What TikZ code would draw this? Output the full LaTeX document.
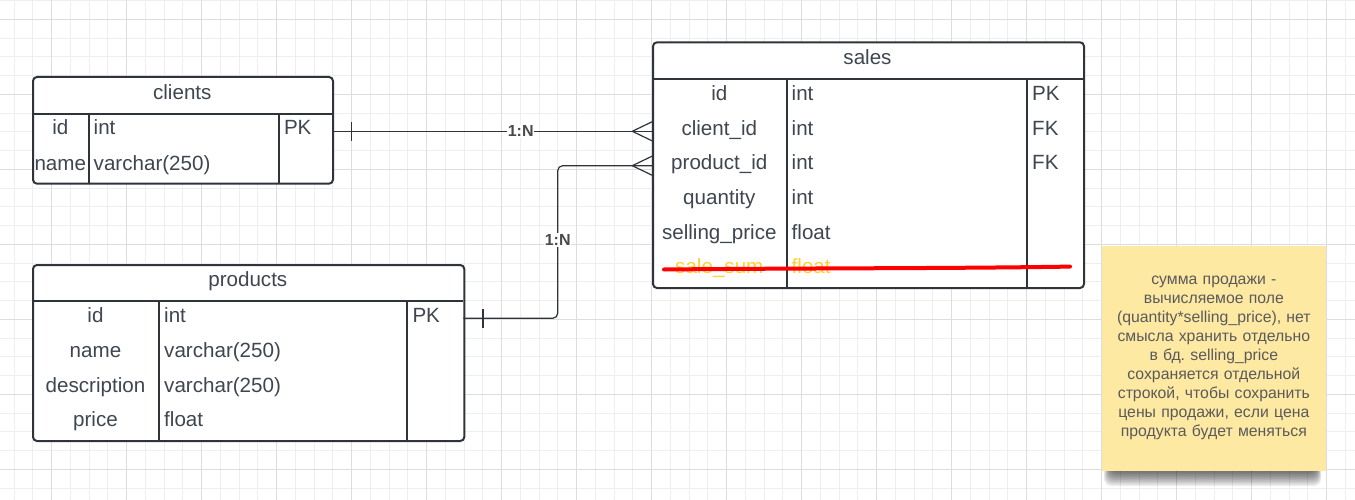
\documentclass[tikz,border=0pt]{standalone}
\usepackage{fontspec}
\setmainfont{Liberation Sans}
\frenchspacing
\definecolor{ink}{HTML}{2F343B}
\definecolor{txt}{HTML}{3F4650}
\definecolor{gridminor}{HTML}{EEEEEE}
\definecolor{gridmajor}{HTML}{DDDDDD}
\definecolor{notefill}{HTML}{FEE9A3}
\definecolor{notetxt}{HTML}{5A5A5A}
\definecolor{struck}{HTML}{FFD22E}
\definecolor{lbltxt}{HTML}{4A4A4A}
\begin{document}
\begin{tikzpicture}[x=1pt,y=-1pt,
  tbl/.style={draw=ink, line width=2pt, rounded corners=4pt, fill=white, anchor=north west, inner sep=0pt},
  cell/.style={font=\fontsize{20.6}{24}\selectfont, text=txt, inner sep=0pt, anchor=base},
  cellw/.style={cell, anchor=base west},
  gone/.style={text=struck},
  sepline/.style={draw=ink, line width=2pt},
  conn/.style={draw=ink, line width=1.2pt},
  lbl/.style={font=\bfseries\fontsize{16}{18}\selectfont, text=lbltxt, fill=white, inner xsep=0.6pt, inner ysep=1pt},
  note/.style={fill=notefill, anchor=north west, inner sep=0pt, align=center, text width=215pt,
    font=\fontsize{15.8}{19}\selectfont, text=notetxt},
  shadowlayer/.style={fill=black, opacity=0.07, rounded corners=7pt},
  minorgrid/.style={draw=gridminor, line width=1pt},
  majorgrid/.style={draw=gridmajor, line width=1pt}
]
\useasboundingbox (0,0) rectangle (1355,500);
\fill[white] (0,0) rectangle (1355,500);
% grid
\foreach \i in {0,...,72} \draw[minorgrid] ({14.2+18.75*\i},0) -- ({14.2+18.75*\i},500);
\foreach \i in {0,...,26} \draw[minorgrid] (0,{0.55+18.75*\i}) -- (1355,{0.55+18.75*\i});
\foreach \i in {0,...,17} \draw[majorgrid] ({51.7+75*\i},0) -- ({51.7+75*\i},500);
\foreach \i in {0,...,6} \draw[majorgrid] (0,{19.3+75*\i}) -- (1355,{19.3+75*\i});

% ---------- clients ----------
\node[tbl, minimum width=300pt, minimum height=106.7pt] (clients) at (32,76) {};
\draw[sepline] (32,113.7) -- (332,113.7);
\draw[sepline] (88.7,113.7) -- (88.7,182.7);
\draw[sepline] (278.7,113.7) -- (278.7,182.7);
\node[cell] (clients-h) at (182.3,99.5) {clients};
\node[cell] (clients-id) at (60.3,135) {id};
\node[cell] (clients-name) at (60.3,170.5) {name};
\node[cellw] (clients-idt) at (93.5,135) {int};
\node[cellw] (clients-namet) at (93.5,170.5) {varchar(250)};
\node[cellw] (clients-pk) at (283.8,135) {PK};

% ---------- sales ----------
\node[tbl, minimum width=431pt, minimum height=245.7pt] (sales) at (652,41.3) {};
\draw[sepline] (652,79) -- (1083,79);
\draw[sepline] (786.7,79) -- (786.7,287);
\draw[sepline] (1026.7,79) -- (1026.7,287);
\node[cell] (sales-h) at (867.5,64.8) {sales};
\node[cell] (sales-id) at (719.3,100.7) {id};
\node[cell] (sales-cid) at (719.3,135.3) {client\_id};
\node[cell] (sales-pid) at (719.3,169.9) {product\_id};
\node[cell] (sales-q) at (719.3,204.5) {quantity};
\node[cell] (sales-sp) at (719.3,239.1) {selling\_price};
\node[cell, gone] (sales-ss) at (719.3,273.7) {sale\_sum};
\node[cellw] (sales-idt) at (791.5,100.7) {int};
\node[cellw] (sales-cidt) at (791.5,135.3) {int};
\node[cellw] (sales-pidt) at (791.5,169.9) {int};
\node[cellw] (sales-qt) at (791.5,204.5) {int};
\node[cellw] (sales-spt) at (791.5,239.1) {float};
\node[cellw, gone] (sales-sst) at (791.5,273.7) {float};
\node[cellw] (sales-pk) at (1032,100.7) {PK};
\node[cellw] (sales-fk1) at (1032,135.3) {FK};
\node[cellw] (sales-fk2) at (1032,169.9) {FK};
\draw[red, line width=4pt, line cap=round] (664,269.5) .. controls (820,268) and (940,268.6) .. (1070,266.6);

% ---------- products ----------
\node[tbl, minimum width=431.3pt, minimum height=176pt] (products) at (32,264) {};
\draw[sepline] (32,301) -- (463.3,301);
\draw[sepline] (159,301) -- (159,440);
\draw[sepline] (407,301) -- (407,440);
\node[cell] (products-h) at (247.8,286.5) {products};
\node[cell] (products-id) at (95.5,322.7) {id};
\node[cell] (products-name) at (95.5,357.4) {name};
\node[cell] (products-desc) at (95.5,392.1) {description};
\node[cell] (products-price) at (95.5,426.8) {price};
\node[cellw] (products-idt) at (164,322.7) {int};
\node[cellw] (products-namet) at (164,357.4) {varchar(250)};
\node[cellw] (products-desct) at (164,392.1) {varchar(250)};
\node[cellw] (products-pricet) at (164,426.8) {float};
\node[cellw] (products-pk) at (412.3,322.7) {PK};

% ---------- connectors ----------
\coordinate (c1) at (332,131.3);
\coordinate (s1) at (652,131.3);
\coordinate (p1) at (463.3,318.3);
\coordinate (s2) at (652,165.7);
\coordinate (bend) at (557.7,240);

\draw[conn] (c1) -- (s1);
\node[lbl] (l1) at (520.7,131.3) {1:N};
\draw[conn] ([xshift=19.7pt,yshift=9.5pt]c1) -- ([xshift=19.7pt,yshift=-9.5pt]c1);
\draw[conn] ([yshift=9.5pt]s1) -- ([xshift=-19.7pt]s1) -- ([yshift=-9.5pt]s1);

\draw[conn, rounded corners=5pt] (p1) -| (bend) |- (s2);
\node[lbl] (l2) at (bend) {1:N};
\draw[conn] ([xshift=19.7pt,yshift=9.5pt]p1) -- ([xshift=19.7pt,yshift=-9.5pt]p1);
\draw[conn] ([yshift=9.5pt]s2) -- ([xshift=-19.7pt]s2) -- ([yshift=-9.5pt]s2);

% ---------- sticky note ----------
\foreach \i in {0,...,9}
  \fill[shadowlayer] ({1104+\i*0.7},300) rectangle ({1321-\i*0.5},{486-\i*1.5});
\node[note, minimum width=224.7pt, minimum height=224.3pt] (note) at (1101.3,246)
  {сумма продажи -\\вычисляемое поле\\(quantity*selling\_price), нет\\смысла хранить отдельно\\в бд. selling\_price\\сохраняется отдельной\\строкой, чтобы сохранить\\цены продажи, если цена\\продукта будет меняться};
\end{tikzpicture}
\end{document}
